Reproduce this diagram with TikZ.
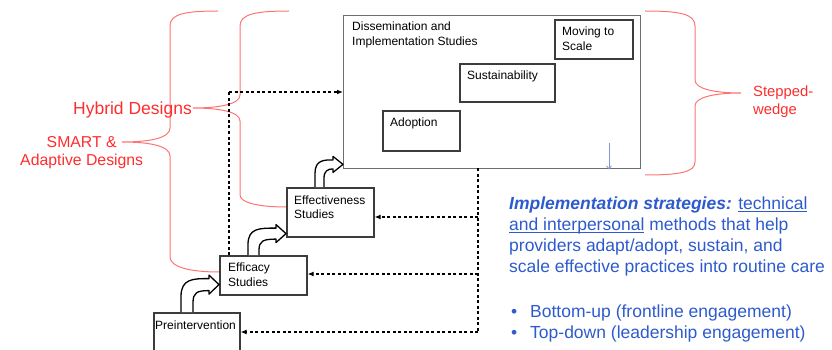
\documentclass[tikz,border=0pt]{standalone}
\usepackage{fontspec}
\setmainfont{Liberation Sans}
\usetikzlibrary{arrows.meta,calc}
\definecolor{redtxt}{RGB}{255,45,45}
\definecolor{redbrace}{RGB}{255,115,115}
\definecolor{bluetxt}{RGB}{45,90,205}
\definecolor{boxgray}{RGB}{60,60,60}
\definecolor{biggray}{RGB}{110,110,110}
\definecolor{lightblue}{RGB}{130,150,215}
\newsavebox{\myulbox}
\newcommand{\myul}[1]{\sbox{\myulbox}{#1}\rlap{\rule[-2.2pt]{\wd\myulbox}{1pt}}\usebox{\myulbox}}
\newcommand{\bentarr}[3]{%
 \path[bentarrow] let \p1=(#1), \p2=(#2) in
 (\x1,\y1) -- (\x1,\y2-#3pt)
 .. controls (\x1,\y2+0.5*#3pt) and (\x1+#3pt,\y2+0.5*#3pt) .. (\x2-10pt,\y2+0.5*#3pt)
 -- (\x2-10pt,\y2+0.5*#3pt+3.5pt) -- (\x2,\y2) -- (\x2-10pt,\y2-0.5*#3pt-3.5pt)
 -- (\x2-10pt,\y2-0.5*#3pt)
 .. controls (\x1+#3pt+4pt,\y2-0.5*#3pt) and (\x1+#3pt,\y2-0.5*#3pt-2pt) .. (\x1+#3pt,\y2-1.5*#3pt)
 -- (\x1+#3pt,\y1);}
\begin{document}
\begin{tikzpicture}[x=1pt,y=-1pt,
 stagebox/.style={draw=boxgray, line width=1.6pt, fill=white, inner sep=0pt, anchor=north west},
 bigbox/.style={draw=biggray, line width=1.4pt, fill=white, inner sep=0pt, anchor=north west},
 boxtext/.style={font=\fontsize{12}{14.5}\selectfont, align=left, anchor=base west, inner sep=0pt},
 dashline/.style={line width=1.3pt, dash pattern=on 3pt off 2.5pt},
 feedback/.style={dashline, -{Latex[length=6pt,width=5pt]}},
 bracepath/.style={draw=redbrace, line width=1pt},
 redlabel/.style={text=redtxt, inner sep=0pt},
 bluetext/.style={text=bluetxt, inner sep=0pt, align=left, anchor=base west, font=\fontsize{17.5}{20.7}\selectfont},
 bentarrow/.style={draw=black, line width=1.3pt, fill=white, line join=round},
]
\useasboundingbox (0,0) rectangle (832,350);

% braces
\draw[bracepath] (218,11) .. controls (185,11) and (170,14) .. (170,26) -- (170,128)
  .. controls (170,138) and (150,142) .. (122,142)
  .. controls (150,142) and (170,146) .. (170,156) -- (170,257)
  .. controls (170,267) and (190,272) .. (219,272);
\draw[bracepath] (289,11) .. controls (256,11) and (240,14) .. (240,26) -- (240,95)
  .. controls (240,104) and (220,108) .. (193,108)
  .. controls (220,108) and (240,112) .. (240,121) -- (240,195)
  .. controls (240,203) and (260,207) .. (286,207);
\draw[bracepath] (645,11) .. controls (680,11) and (695,14) .. (695,26) -- (695,80)
  .. controls (695,89) and (715,93) .. (741,93)
  .. controls (715,93) and (695,97) .. (695,106) -- (695,162)
  .. controls (695,172) and (680,175) .. (645,175);

% boxes
\node[bigbox, minimum width=297pt, minimum height=153pt] (big) at (343,15) {};
\node[stagebox, minimum width=78pt, minimum height=39pt] (moving) at (554,19) {};
\node[stagebox, minimum width=95pt, minimum height=38pt] (sust) at (459,63) {};
\node[stagebox, minimum width=77pt, minimum height=40pt] (adopt) at (382,110) {};
\node[stagebox, minimum width=87pt, minimum height=49pt] (effv) at (286,187) {};
\node[stagebox, minimum width=87pt, minimum height=39pt] (effc) at (219,255) {};
\node[stagebox, minimum width=86pt, minimum height=50pt] (pre) at (153,312) {};

% box texts (multi-line nodes: base = last line)
\node[boxtext] (bigtxt) at (352,45.5) {Dissemination and\\Implementation Studies};
\node[boxtext] (movtxt) at (562,50.5) {Moving to\\Scale};
\node[boxtext] (susttxt) at (467,80) {Sustainability};
\node[boxtext] (adopttxt) at (390,127) {Adoption};
\node[boxtext] (effvtxt) at (294,218.5) {Effectiveness\\Studies};
\node[boxtext] (effctxt) at (228,286) {Efficacy\\Studies};
\node[boxtext] (pretxt) at (155,329) {Preintervention};

% small blue arrow
\coordinate (bluetop) at (609,143);
\draw[lightblue, line width=0.8pt, -{Straight Barb[length=3pt,width=5pt]}] (bluetop) -- (bluetop |- big.south);

% dashed connectors
\coordinate (hyb) at (229,92);
\draw[dashline] (effc.north -| hyb) -- (hyb);
\draw[feedback] (hyb) -- (hyb -| big.west);
\coordinate (fbtop) at (478,168);
\coordinate (fb1) at (478,217);
\coordinate (fb2) at (478,274);
\coordinate (fb3) at (478,332);
\draw[dashline] (fbtop) -- (fb3);
\draw[feedback] (fb1) -- (fb1 -| effv.east);
\draw[feedback] (fb2) -- (fb2 -| effc.east);
\draw[feedback] (fb3) -- (fb3 -| pre.east);

% bent arrows
\bentarr{$(pre.north west)+(28,0)$}{$(effc.south west)+(0,-11)$}{12}
\bentarr{$(effc.north west)+(29,0)$}{$(effv.south west)+(0,-4)$}{11}
\bentarr{$(effv.north west)+(29,0)$}{$(big.south west)+(0,-5)$}{9}

% red labels
\node[redlabel, font=\fontsize{17.5}{21}\selectfont, anchor=base east] (hybtxt) at (192,114) {Hybrid Designs};
\node[redlabel, font=\fontsize{15.8}{18.4}\selectfont, align=center, anchor=base] (smarttxt) at (81.7,165.7) {SMART \&\\Adaptive Designs};
\node[redlabel, font=\fontsize{14.8}{17.6}\selectfont, align=left, anchor=base west] (swtxt) at (753,114.3) {Stepped-\\wedge};

% blue text
\node[bluetext] (impl) at (509,272) {\textbf{\textit{Implementation strategies:}} \myul{technical}\\\myul{and interpersonal} methods that help\\providers adapt/adopt, sustain, and\\scale effective practices into routine care};
\node[bluetext] (bullets) at (511,338) {\makebox[19pt][l]{•}Bottom-up (frontline engagement)\\\makebox[19pt][l]{•}Top-down (leadership engagement)};
\end{tikzpicture}
\end{document}
